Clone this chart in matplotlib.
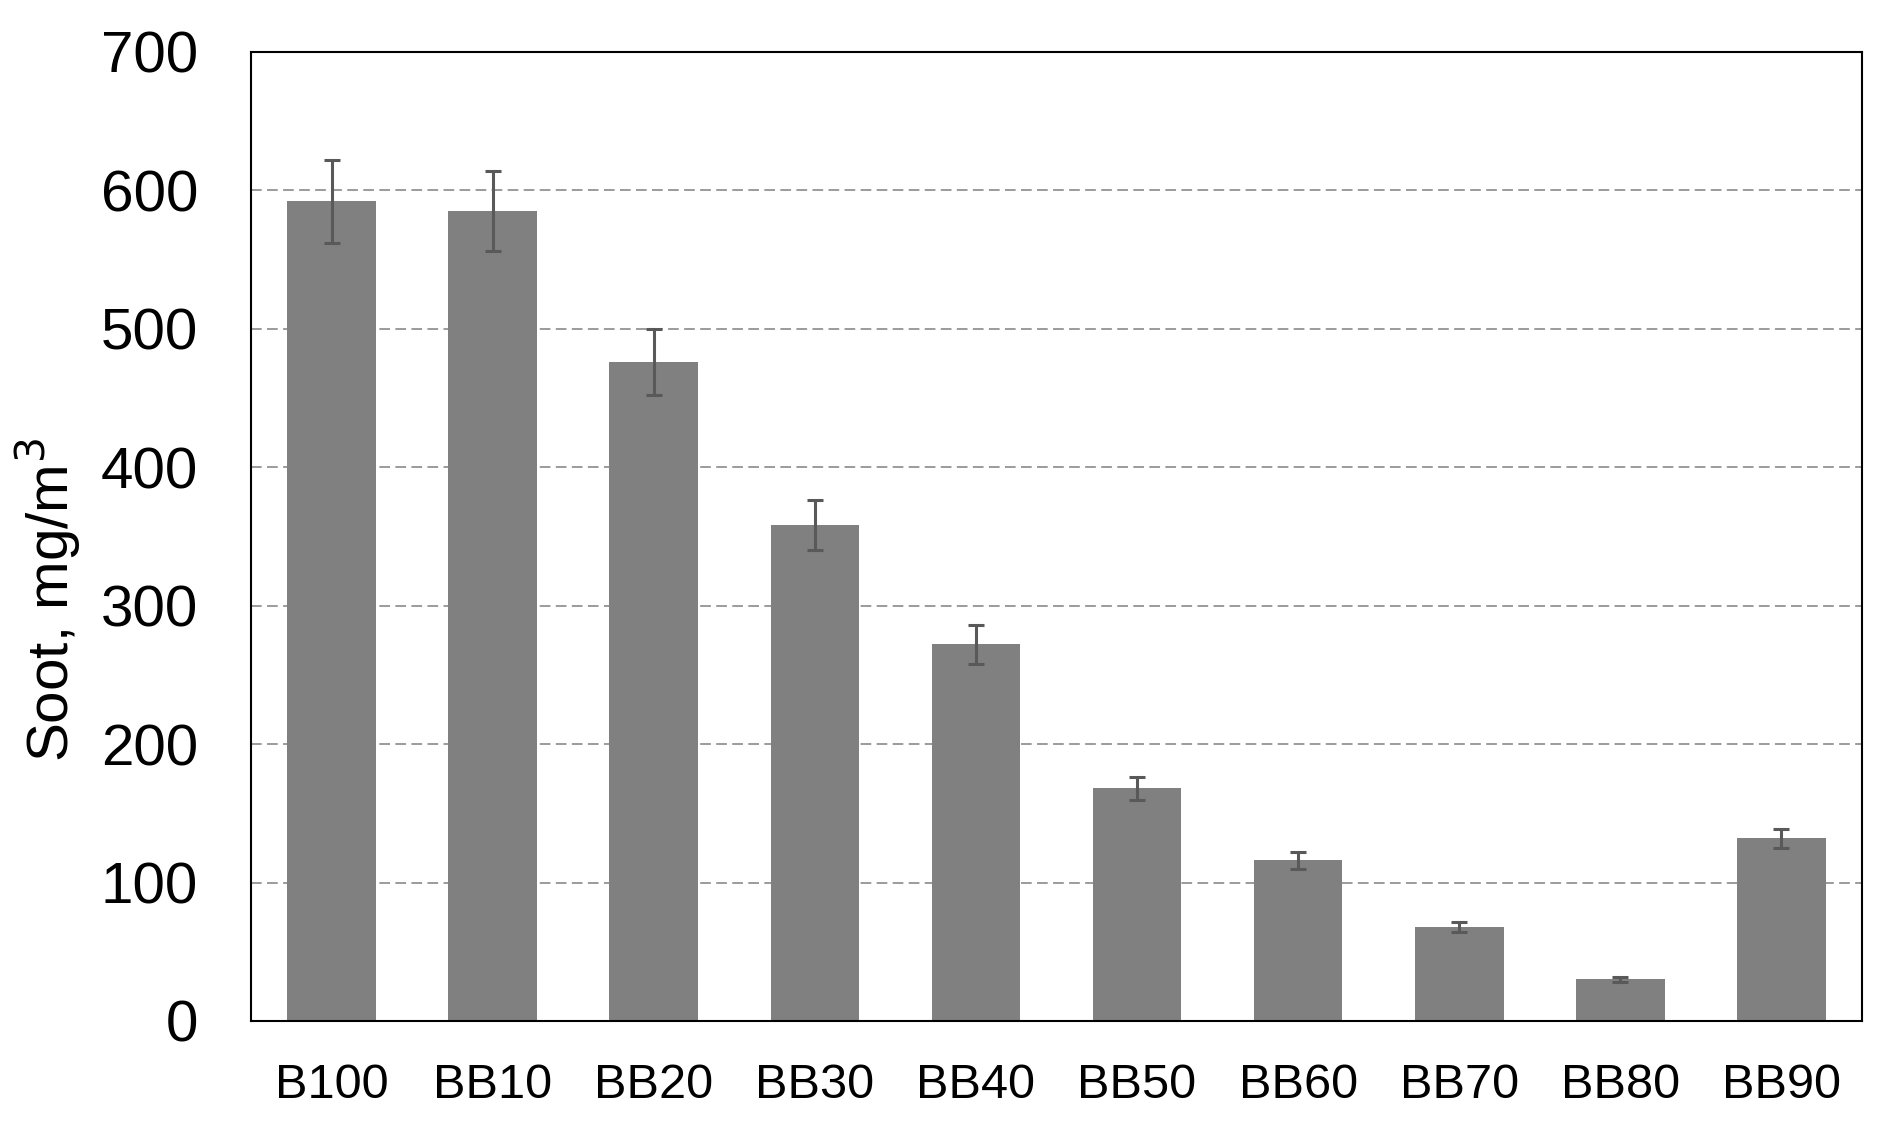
import matplotlib
matplotlib.use("Agg")
import matplotlib.pyplot as plt
import numpy as np

# fuel blends and measured soot (mg/m3) with error bars
blends = ["B100", "BB10", "BB20", "BB30", "BB40", "BB50", "BB60", "BB70", "BB80", "BB90"]
soot = [592, 585, 476, 358, 272, 168, 116, 68, 30, 132]
soot_err = [30, 29, 24, 18, 14, 8.5, 6, 3.5, 1.5, 7]
yticks = [0, 100, 200, 300, 400, 500, 600, 700]

plt.rcParams["font.family"] = ["Liberation Sans", "DejaVu Sans"]

fig = plt.figure(figsize=(18.94, 11.40), dpi=100)
ax = fig.add_axes([0.1325, 0.1044, 0.8506, 0.85])

x = np.arange(len(blends))
ax.bar(x, soot, width=0.55, color="#808080", zorder=2)
ax.errorbar(x, soot, yerr=soot_err, fmt="none", ecolor="#595959",
            elinewidth=2.2, capsize=5.5, capthick=2.2, zorder=3)

ax.set_xlim(-0.5, len(blends) - 0.5)
ax.set_ylim(0, 700)
ax.set_yticks(yticks)
ax.set_xticks(x)
ax.set_xticklabels(blends, fontsize=35)
ax.tick_params(axis="y", labelsize=42, length=0, pad=38)
ax.tick_params(axis="x", length=0, pad=30)

ax.grid(axis="y", color="#808080", linewidth=1.1, linestyle=(0, (7, 3.5)), zorder=1)
ax.set_axisbelow(True)
for s in ax.spines.values():
    s.set_linewidth(1.5)
    s.set_color("black")

ax.set_ylabel("Soot, mg/m$^3$", fontsize=42)
ax.yaxis.set_label_coords(-0.104, 0.434)

fig.savefig("out.png", dpi=100)
